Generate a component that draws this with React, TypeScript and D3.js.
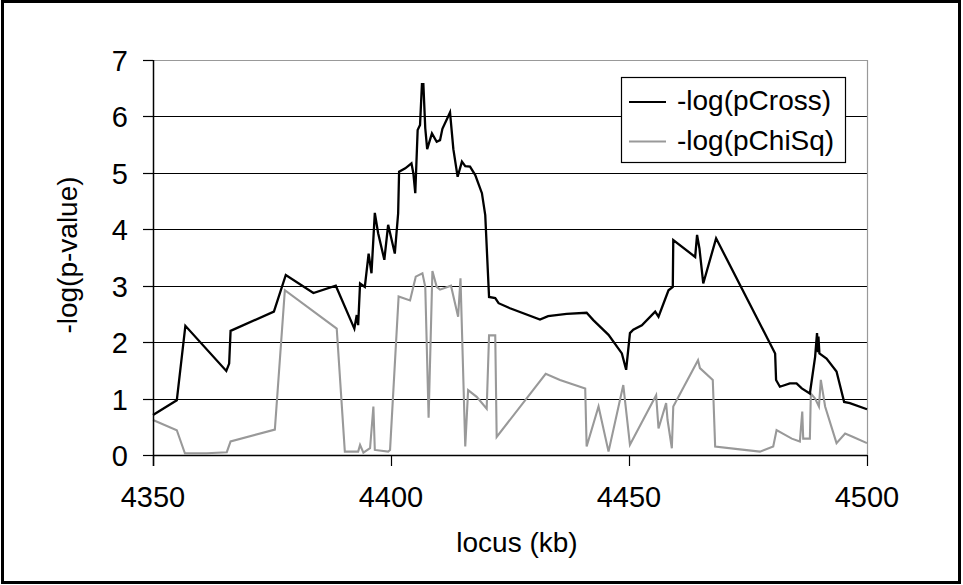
import React from 'react'
import * as d3 from 'd3'

// -log(pCross), black series
const crossLocus = [4350.0, 4355.0, 4356.8, 4365.4, 4366.0, 4366.3, 4375.4, 4377.9, 4383.7, 4388.4, 4392.3, 4392.8, 4393.1, 4393.5, 4394.5, 4395.3, 4395.9, 4396.6, 4397.3, 4398.6, 4399.4, 4400.8, 4401.5, 4401.7, 4403.0, 4404.3, 4404.7, 4405.1, 4405.6, 4406.1, 4406.5, 4406.8, 4407.2, 4407.6, 4408.6, 4409.6, 4410.3, 4410.8, 4412.4, 4413.1, 4414.0, 4414.9, 4415.6, 4416.6, 4417.7, 4419.1, 4419.8, 4420.3, 4420.6, 4421.9, 4422.6, 4425.0, 4431.3, 4433.0, 4436.9, 4441.1, 4442.5, 4445.7, 4448.5, 4449.4, 4450.2, 4450.9, 4452.7, 4455.5, 4456.2, 4458.3, 4459.2, 4459.3, 4463.9, 4464.3, 4464.8, 4465.6, 4468.3, 4480.7, 4480.9, 4481.7, 4483.8, 4485.2, 4486.3, 4488.0, 4489.1, 4489.5, 4489.7, 4489.8, 4490.0, 4491.5, 4493.6, 4495.2, 4496.4, 4500.0]
const crossValue = [0.71, 0.97, 2.29, 1.49, 1.62, 2.20, 2.54, 3.19, 2.87, 3.00, 2.24, 2.48, 2.30, 3.04, 2.98, 3.57, 3.22, 4.29, 3.93, 3.46, 4.08, 3.57, 4.28, 5.02, 5.08, 5.17, 4.99, 4.64, 5.76, 5.85, 6.57, 6.57, 5.79, 5.42, 5.70, 5.55, 5.58, 5.78, 6.07, 5.42, 4.93, 5.20, 5.12, 5.11, 4.96, 4.64, 4.25, 3.34, 2.80, 2.78, 2.69, 2.60, 2.40, 2.46, 2.50, 2.52, 2.39, 2.13, 1.80, 1.51, 2.16, 2.22, 2.30, 2.54, 2.45, 2.92, 2.98, 3.81, 3.51, 3.90, 3.66, 3.04, 3.84, 1.80, 1.33, 1.21, 1.27, 1.27, 1.18, 1.09, 1.74, 2.16, 1.82, 2.10, 1.80, 1.71, 1.48, 0.94, 0.92, 0.81]

// -log(pChiSq), grey series
const chiLocus = [4350.0, 4355.0, 4356.7, 4361.3, 4365.5, 4366.3, 4375.6, 4377.7, 4388.6, 4390.3, 4393.1, 4393.5, 4394.2, 4395.6, 4396.3, 4396.6, 4399.4, 4399.8, 4401.6, 4404.0, 4405.2, 4406.6, 4407.2, 4407.9, 4408.7, 4409.6, 4410.3, 4412.6, 4414.1, 4414.6, 4415.6, 4416.2, 4418.0, 4420.1, 4420.6, 4421.9, 4422.2, 4432.5, 4435.5, 4440.8, 4441.1, 4443.6, 4445.7, 4448.8, 4450.2, 4455.7, 4456.2, 4457.8, 4458.1, 4459.0, 4459.3, 4464.5, 4464.9, 4467.6, 4468.1, 4473.3, 4477.5, 4480.3, 4481.0, 4484.2, 4485.9, 4486.4, 4486.6, 4488.0, 4488.2, 4489.1, 4489.9, 4490.3, 4491.2, 4493.6, 4495.4, 4497.1, 4500.0]
const chiValue = [0.62, 0.44, 0.03, 0.03, 0.05, 0.24, 0.45, 2.92, 2.24, 0.06, 0.06, 0.18, 0.04, 0.12, 0.86, 0.09, 0.06, 0.09, 2.81, 2.74, 3.16, 3.22, 2.98, 0.66, 3.26, 2.98, 2.93, 3.00, 2.45, 3.13, 0.15, 1.15, 1.03, 0.82, 2.12, 2.12, 0.32, 1.44, 1.33, 1.18, 0.15, 0.86, 0.06, 1.24, 0.18, 1.06, 0.47, 0.92, 0.62, 0.12, 0.86, 1.68, 1.54, 1.33, 0.15, 0.10, 0.06, 0.15, 0.44, 0.29, 0.24, 0.77, 0.29, 0.29, 1.09, 1.00, 0.86, 1.33, 0.86, 0.21, 0.38, 0.32, 0.21]

const xTicks = [4350, 4400, 4450, 4500]
const yTicks = [0, 1, 2, 3, 4, 5, 6, 7]
const seriesNames = ['-log(pCross)', '-log(pChiSq)']
const seriesColors = ['#000000', '#999999']

const font = '"Liberation Sans", Arial, sans-serif'

export default function App() {
  const width = 963
  const height = 585
  const margin = { left: 153, right: 96, top: 60, bottom: 130 }

  const x = d3.scaleLinear().domain([4350, 4500]).range([margin.left, width - margin.right])
  const y = d3.scaleLinear().domain([0, 7]).range([height - margin.bottom, margin.top])

  const line = d3.line<[number, number]>()
    .x(d => x(d[0]))
    .y(d => y(d[1]))

  const cross = crossLocus.map((l, i) => [l, crossValue[i]] as [number, number])
  const chi = chiLocus.map((l, i) => [l, chiValue[i]] as [number, number])

  const x0 = x(4350), x1 = x(4500), y0 = y(0), y7 = y(7)
  const py = (t: number) => Math.round(y(t)) + 0.5

  return (
    <svg width={width} height={height}
      style={{ position: 'absolute', left: 0, top: 0, background: '#fff' }}
      fontFamily={font}>
      <rect x={2.5} y={1.5} width={957} height={581} fill="#fff" stroke="#000" strokeWidth={3} />

      {/* grid lines */}
      {yTicks.filter(t => t > 0 && t < 7).map(t => (
        <line key={t} x1={x0} x2={x1} y1={py(t)} y2={py(t)} stroke="#000" strokeWidth={1} />
      ))}
      {/* plot area border top/right */}
      <line x1={x0} x2={x1} y1={py(7)} y2={py(7)} stroke="#999" strokeWidth={1.2} />
      <line x1={x1 + 0.5} x2={x1 + 0.5} y1={y7} y2={y0} stroke="#999" strokeWidth={1.2} />

      {/* series */}
      <path d={line(chi) || ''} fill="none" stroke={seriesColors[1]} strokeWidth={2.1} />
      <path d={line(cross) || ''} fill="none" stroke={seriesColors[0]} strokeWidth={2.3} />

      {/* axes */}
      <line x1={x0} x2={x1} y1={py(0)} y2={py(0)} stroke="#000" strokeWidth={1.5} />
      <line x1={x0 + 0.5} x2={x0 + 0.5} y1={y7} y2={y0 + 11} stroke="#000" strokeWidth={1.5} />
      {yTicks.map(t => (
        <g key={t}>
          <line x1={x0 - 10} x2={x0} y1={py(t)} y2={py(t)} stroke="#000" strokeWidth={1.2} />
          <text x={128} y={y(t) + 11} textAnchor="end" fontSize={29} fill="#000">{t}</text>
        </g>
      ))}
      {xTicks.map(t => (
        <g key={t}>
          <line x1={Math.round(x(t)) + 0.5} x2={Math.round(x(t)) + 0.5} y1={y0} y2={y0 + 11} stroke="#000" strokeWidth={1.2} />
          <text x={x(t)} y={507} textAnchor="middle" fontSize={29} fill="#000">{t}</text>
        </g>
      ))}

      {/* axis titles */}
      <text x={517} y={552} textAnchor="middle" fontSize={28} fill="#000">locus (kb)</text>
      <text transform={`translate(77,255) rotate(-90)`} textAnchor="middle" fontSize={28} fill="#000">-log(p-value)</text>

      {/* legend */}
      <rect x={621.5} y={77.5} width={224} height={85} fill="#fff" stroke="#000" strokeWidth={1.2} />
      {seriesNames.map((n, i) => (
        <g key={n}>
          <line x1={629} x2={666} y1={102 + i * 39.5} y2={102 + i * 39.5} stroke={seriesColors[i]} strokeWidth={2.2} />
          <text x={677} y={110 + i * 40} fontSize={28} fill="#000">{n}</text>
        </g>
      ))}
    </svg>
  )
}
